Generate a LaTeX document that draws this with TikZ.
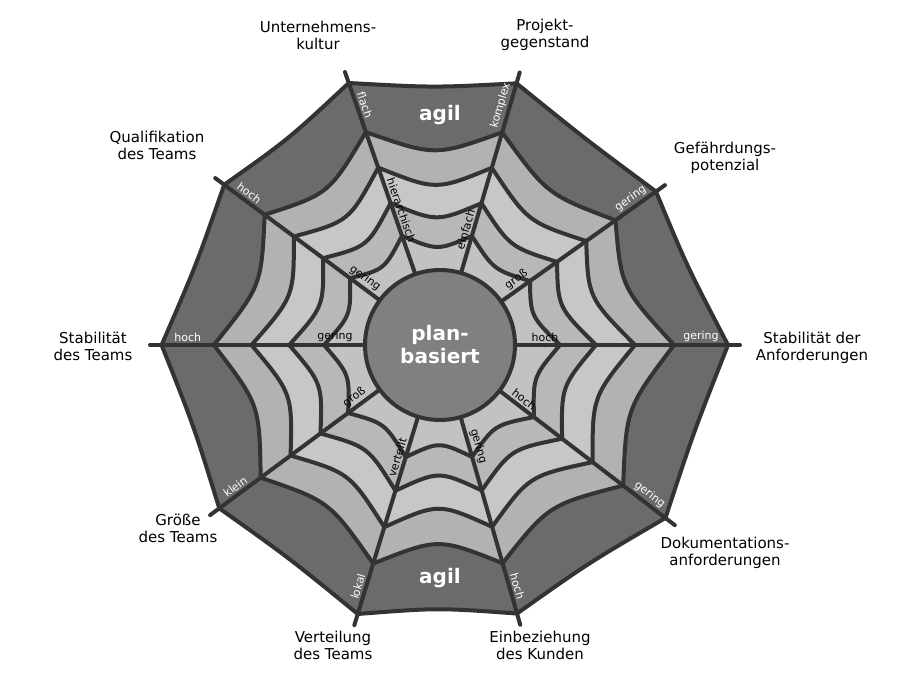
\documentclass[tikz,border=0pt]{standalone}
\usepackage{fontspec}
\setmainfont{DejaVu Sans}
\usetikzlibrary{calc}
\begin{document}
\begin{tikzpicture}[x=1pt,y=1pt,
 web/.style={draw=black!80,line width=4pt,line join=round},
 lab/.style={align=center,font=\fontsize{15}{17}\selectfont},
 olab/.style={text=white,font=\fontsize{11}{12}\selectfont,inner sep=3.5pt},
 ilab/.style={text=black,font=\fontsize{11}{12}\selectfont,inner sep=3.5pt},
 big/.style={text=white,font=\bfseries\fontsize{20}{23}\selectfont,align=center}]
\useasboundingbox (0,0) rectangle (903,675);
\coordinate (c) at (440,330);
\def\spokes{1/109.2/289,2/73.7/284,3/35.4/276,4/0/300,5/-37.5/296,6/-74/291,7/-107/293,8/-143.5/286,9/-180/290,10/-216.6/280}
\def\mids{1/91.45/286,2/54.55/280,3/17.7/288,4/-18.75/298,5/-55.75/293,6/-90.5/292,7/-125.25/290,8/-161.75/288,9/-198.3/285,10/-233.7/284}
\foreach \k/\f/\s in {1/0.96/0.90,2/0.78/0.66,3/0.65/0.54,4/0.52/0.43,5/0.40/0.33}{
  \foreach \i/\a/\l in \spokes { \coordinate (r\k-\i) at ($(c)+(\a:{\f*\l})$); }
  \foreach \i/\a/\l in \mids { \coordinate (m\k-\i) at ($(c)+(\a:{\s*\l})$); }
}
\foreach \i/\a/\l in \spokes { \coordinate (s\i) at ($(c)+(\a:\l)$); }
\foreach \k/\col in {1/black!58,2/black!30,3/black!22,4/black!28,5/black!24}{
  \fill[\col] (r\k-1) \foreach \i/\j in {1/2,2/3,3/4,4/5,5/6,6/7,7/8,8/9,9/10,10/1}{ .. controls (m\k-\i) .. (r\k-\j) } -- cycle;
}
\foreach \k in {1,...,5}{
  \draw[web] (r\k-1) \foreach \i/\j in {1/2,2/3,3/4,4/5,5/6,6/7,7/8,8/9,9/10,10/1}{ .. controls (m\k-\i) .. (r\k-\j) } -- cycle;
}
\foreach \i/\a/\l in \spokes { \draw[web,line cap=round] (c) -- (s\i); }
\node[circle,fill=black!50,draw=black!80,line width=4pt,minimum size=150pt,big] (ctr) at (c) {plan-\\basiert};
\node[big] (agil1) at (440,560) {agil};
\node[big] (agil2) at (440,97) {agil};
\foreach \a/\l/\t in {109.2/289/flach,73.7/284/komplex,35.4/276/gering,0/300/gering,-37.5/296/gering,-74/291/hoch,-107/293/lokal,-143.5/286/klein,-180/290/hoch,-216.6/280/hoch}{
  \pgfmathsetmacro\rot{(cos(\a)<-0.01)?\a+180:\a}
  \node[olab,rotate=\rot,anchor=south] at ($(c)+(\a:{0.87*\l})$) {\t};
}
\foreach \a/\r/\t in {109.2/140/hierarchisch,73.7/118/einfach,35.4/100/groß,0/105/hoch,-37.5/100/hoch,-74/108/gering,-107/120/verteilt,-143.5/100/groß,-180/105/gering,-216.6/100/gering}{
  \pgfmathsetmacro\rot{(cos(\a)<-0.01)?\a+180:\a}
  \node[ilab,rotate=\rot,anchor=south] at ($(c)+(\a:\r)$) {\t};
}
\node[lab] (l1) at (318,640) {Unternehmens-\\kultur};
\node[lab] (l2) at (545,640) {Projekt-\\gegenstand};
\node[lab] (l3) at (725,517) {Gefährdungs-\\potenzial};
\node[lab] (l4) at (812,327) {Stabilität der\\Anforderungen};
\node[lab] (l5) at (725,122) {Dokumentations-\\anforderungen};
\node[lab] (l6) at (540,30) {Einbeziehung\\des Kunden};
\node[lab] (l7) at (333,30) {Verteilung\\des Teams};
\node[lab] (l8) at (178,147) {Größe\\des Teams};
\node[lab] (l9) at (93,329) {Stabilität\\des Teams};
\node[lab] (l10) at (157,530) {Qualifikation\\des Teams};
\end{tikzpicture}
\end{document}
